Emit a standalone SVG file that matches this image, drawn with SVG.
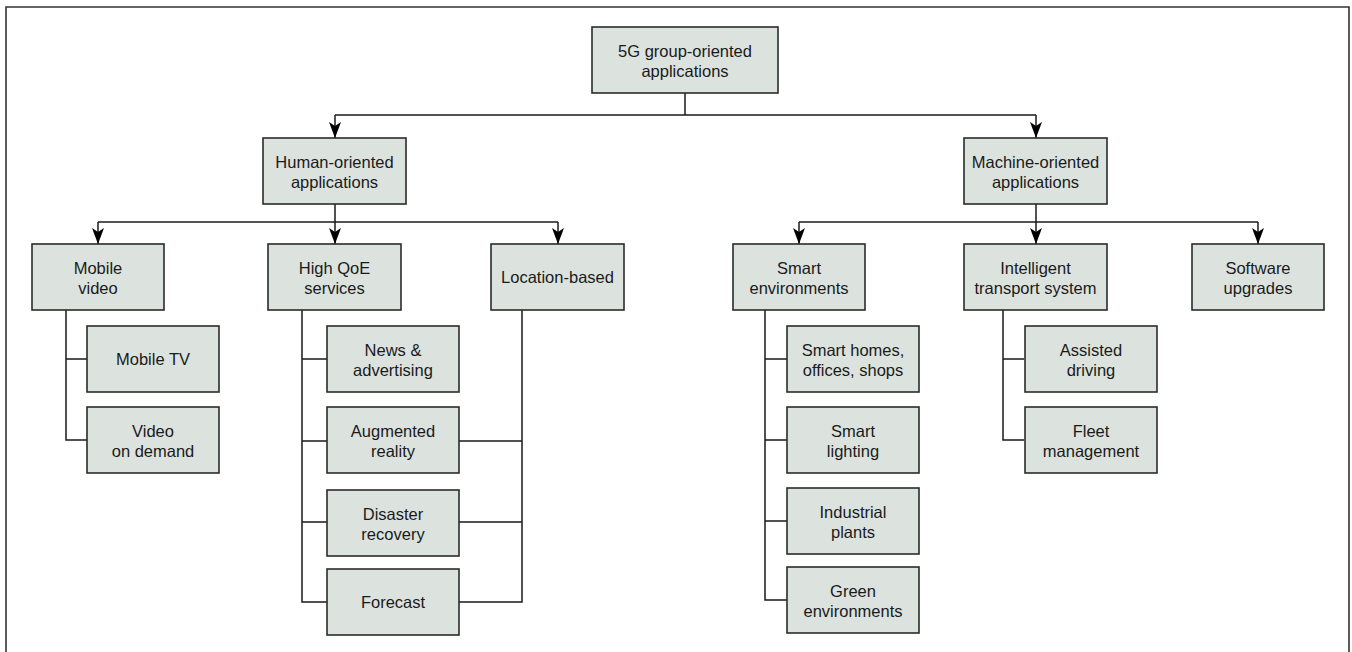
<svg xmlns="http://www.w3.org/2000/svg" width="1352" height="652" viewBox="0 0 1352 652">
<style>
.box{fill:#dce3df;stroke:#2b2b2b;stroke-width:1.6}
.t{font-family:"Liberation Sans",Arial,sans-serif;font-size:16.5px;fill:#1a1a1a;text-anchor:middle}
.c{fill:none;stroke:#1a1a1a;stroke-width:1.5}
.frame{fill:none;stroke:#333;stroke-width:1.6}
</style>
<defs>
<marker id="ah" viewBox="0 0 16 12" refX="16" refY="6" markerWidth="16" markerHeight="12" markerUnits="userSpaceOnUse" orient="auto">
<path d="M0,0 L16,6 L0,12 L4,6 z" fill="#000"/>
</marker>
</defs>
<rect width="1352" height="652" fill="#fff"/>
<path class="frame" d="M6,660 V7 H1349 V660"/>
<g id="connectors">
<path class="c" d="M685,93 V115"/>
<path class="c" d="M335,115 H1036"/>
<path class="c" d="M335,115 V138" marker-end="url(#ah)"/>
<path class="c" d="M1036,115 V138" marker-end="url(#ah)"/>
<path class="c" d="M335,204 V244" marker-end="url(#ah)"/>
<path class="c" d="M98,222 H558"/>
<path class="c" d="M98,222 V244" marker-end="url(#ah)"/>
<path class="c" d="M558,222 V244" marker-end="url(#ah)"/>
<path class="c" d="M1036,204 V244" marker-end="url(#ah)"/>
<path class="c" d="M799,222 H1258"/>
<path class="c" d="M799,222 V244" marker-end="url(#ah)"/>
<path class="c" d="M1258,222 V244" marker-end="url(#ah)"/>
<path class="c" d="M66,310 V440 H87 M66,359 H87"/>
<path class="c" d="M302,310 V602 H327 M302,359 H327 M302,441 H327 M302,522 H327"/>
<path class="c" d="M522,310 V602 H459 M522,441 H459 M522,522 H459"/>
<path class="c" d="M765,310 V600 H787 M765,359 H787 M765,440 H787 M765,521 H787"/>
<path class="c" d="M1003,310 V440 H1024 M1003,359 H1024"/>
</g>
<g id="n-root"><rect class="box" x="592" y="27" width="186" height="66"/><text class="t" x="685" y="57">5G group-oriented<tspan x="685" dy="20">applications</tspan></text></g>
<g id="n-human"><rect class="box" x="263" y="138" width="143" height="66"/><text class="t" x="334.5" y="168">Human-oriented<tspan x="334.5" dy="20">applications</tspan></text></g>
<g id="n-machine"><rect class="box" x="964" y="138" width="143" height="66"/><text class="t" x="1035.5" y="168">Machine-oriented<tspan x="1035.5" dy="20">applications</tspan></text></g>
<g id="n-mobilevideo"><rect class="box" x="32" y="244" width="132" height="66"/><text class="t" x="98" y="274">Mobile<tspan x="98" dy="20">video</tspan></text></g>
<g id="n-highqoe"><rect class="box" x="268" y="244" width="133" height="66"/><text class="t" x="334.5" y="274">High QoE<tspan x="334.5" dy="20">services</tspan></text></g>
<g id="n-location"><rect class="box" x="491" y="244" width="133" height="66"/><text class="t" x="557.5" y="283">Location-based</text></g>
<g id="n-smartenv"><rect class="box" x="733" y="244" width="132" height="66"/><text class="t" x="799" y="274">Smart<tspan x="799" dy="20">environments</tspan></text></g>
<g id="n-its"><rect class="box" x="964" y="244" width="143" height="66"/><text class="t" x="1035.5" y="274">Intelligent<tspan x="1035.5" dy="20">transport system</tspan></text></g>
<g id="n-software"><rect class="box" x="1192" y="244" width="132" height="66"/><text class="t" x="1258" y="274">Software<tspan x="1258" dy="20">upgrades</tspan></text></g>
<g id="n-mobiletv"><rect class="box" x="87" y="326" width="132" height="66"/><text class="t" x="153" y="365">Mobile TV</text></g>
<g id="n-vod"><rect class="box" x="87" y="407" width="132" height="66"/><text class="t" x="153" y="437">Video<tspan x="153" dy="20">on demand</tspan></text></g>
<g id="n-news"><rect class="box" x="327" y="326" width="132" height="66"/><text class="t" x="393" y="356">News &amp;<tspan x="393" dy="20">advertising</tspan></text></g>
<g id="n-ar"><rect class="box" x="327" y="407" width="132" height="66"/><text class="t" x="393" y="437">Augmented<tspan x="393" dy="20">reality</tspan></text></g>
<g id="n-disaster"><rect class="box" x="327" y="490" width="132" height="66"/><text class="t" x="393" y="520">Disaster<tspan x="393" dy="20">recovery</tspan></text></g>
<g id="n-forecast"><rect class="box" x="327" y="569" width="132" height="66"/><text class="t" x="393" y="608">Forecast</text></g>
<g id="n-smarthomes"><rect class="box" x="787" y="326" width="132" height="66"/><text class="t" x="853" y="356">Smart homes,<tspan x="853" dy="20">offices, shops</tspan></text></g>
<g id="n-lighting"><rect class="box" x="787" y="407" width="132" height="66"/><text class="t" x="853" y="437">Smart<tspan x="853" dy="20">lighting</tspan></text></g>
<g id="n-industrial"><rect class="box" x="787" y="488" width="132" height="66"/><text class="t" x="853" y="518">Industrial<tspan x="853" dy="20">plants</tspan></text></g>
<g id="n-green"><rect class="box" x="787" y="567" width="132" height="66"/><text class="t" x="853" y="597">Green<tspan x="853" dy="20">environments</tspan></text></g>
<g id="n-assisted"><rect class="box" x="1025" y="326" width="132" height="66"/><text class="t" x="1091" y="356">Assisted<tspan x="1091" dy="20">driving</tspan></text></g>
<g id="n-fleet"><rect class="box" x="1025" y="407" width="132" height="66"/><text class="t" x="1091" y="437">Fleet<tspan x="1091" dy="20">management</tspan></text></g>
</svg>
